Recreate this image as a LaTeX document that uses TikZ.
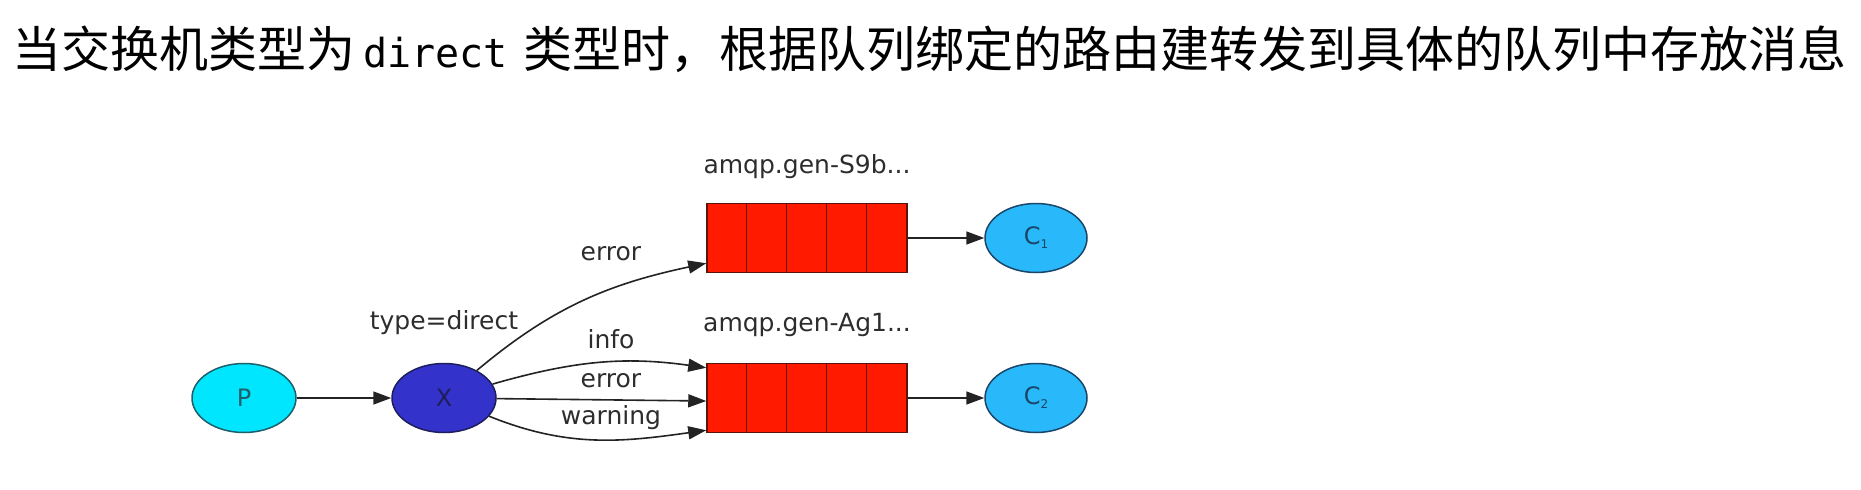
\documentclass[tikz,border=0pt]{standalone}
\usepackage{fontspec}
\setmainfont{DejaVu Sans}
\newfontfamily\cjkfont{Noto Sans CJK SC}
\newfontfamily\codefont{DejaVu Sans Mono}
\usetikzlibrary{arrows.meta, positioning, shapes.geometric}

\definecolor{pcyan}{RGB}{0,230,255}
\definecolor{pedge}{RGB}{30,95,105}
\definecolor{xblue}{RGB}{51,51,204}
\definecolor{xedge}{RGB}{30,30,90}
\definecolor{qred}{RGB}{255,26,0}
\definecolor{qedge}{RGB}{90,20,10}
\definecolor{cblue}{RGB}{41,185,250}
\definecolor{cedge}{RGB}{25,70,105}
\definecolor{edgegray}{RGB}{35,35,35}
\definecolor{labelgray}{RGB}{45,45,45}

\newcommand{\csub}[1]{\raisebox{-4pt}{\fontsize{12pt}{14pt}\selectfont #1}}

\begin{document}
\begin{tikzpicture}[x=1pt, y=-1pt, node distance=100pt, on grid,
    link/.style={draw=edgegray, line width=1.6pt, -{Triangle[length=18pt, width=13pt]}},
    blob/.style={ellipse, draw, line width=1.5pt, inner sep=0pt, minimum width=104pt, minimum height=69pt, font=\fontsize{24pt}{28pt}\selectfont},
    queue/.style={rectangle, draw=qedge, fill=qred, line width=1.5pt, minimum width=200pt, minimum height=69pt},
    lbl/.style={text=labelgray, inner sep=0pt, font=\fontsize{25pt}{30pt}\selectfont}]

  \useasboundingbox (0,0) rectangle (1861,490);

  % heading line
  \node (head) [anchor=base west, inner sep=0pt] at (12,67)
    {\cjkfont\fontsize{49pt}{56pt}\selectfont 当交换机类型为\hspace{8pt}{\codefont\fontsize{40pt}{46pt}\selectfont direct}\hspace{16pt}类型时，根据队列绑定的路由建转发到具体的队列中存放消息};

  % producer, exchange, queues and consumers
  \node (P) [blob, draw=pedge, fill=pcyan, text=pedge] at (244,398) {P};
  \node (X) [blob, draw=xedge, fill=xblue, text=xedge, right=200pt of P] {X};
  \node (q2) [queue, right=363pt of X] {};
  \node (q1) [queue, above=160pt of q2] {};
  \node (c2) [blob, draw=cedge, fill=cblue, text=cedge, minimum width=102pt, right=229pt of q2] {C\csub{2}};
  \node (c1) [blob, draw=cedge, fill=cblue, text=cedge, minimum width=102pt, right=229pt of q1] {C\csub{1}};

  \foreach \q in {q1,q2}
    \foreach \i in {1,...,4}
      \draw[draw=qedge, line width=1.5pt] ([xshift=\i*40pt]\q.north west) -- ([xshift=\i*40pt]\q.south west);

  % labels
  \node (xtype) [lbl, above=75pt of X] {type=direct};
  \node (q1name) [lbl, above=71pt of q1] {amqp.gen-S9b...};
  \node (q2name) [lbl, above=73pt of q2] {amqp.gen-Ag1...};
  \node (kerr1) [lbl] at (611,254) {error};
  \node (kinfo) [lbl] at (611,339) {info};
  \node (kerr2) [lbl] at (611,381) {error};
  \node (kwarn) [lbl] at (611,418) {warning};

  % bindings
  \draw[link] (P) -- (X);
  \draw[link] (X) to[out=40, in=192] ([yshift=10pt]q1.south west);
  \draw[link] (X) to[out=16, in=172] ([yshift=-5pt]q2.north west);
  \draw[link] (X) -- ([yshift=-3pt]q2.west);
  \draw[link] (X) to[out=-22, in=188] ([yshift=3pt]q2.south west);
  \draw[link] (q1) -- (c1);
  \draw[link] (q2) -- (c2);

\end{tikzpicture}
\end{document}
